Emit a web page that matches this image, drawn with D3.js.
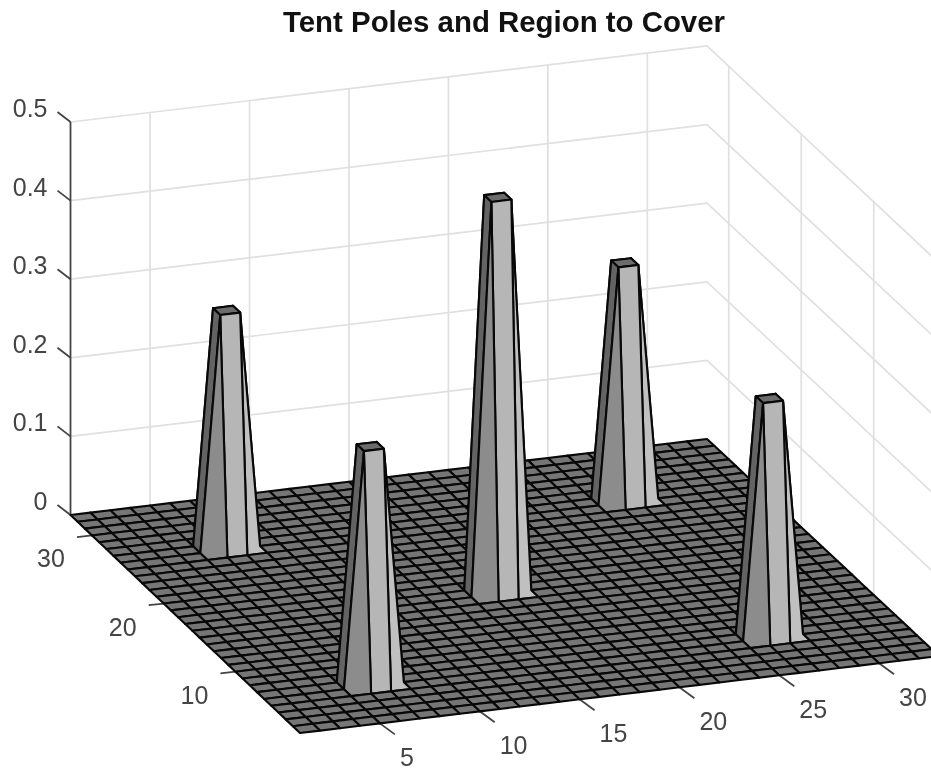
<!DOCTYPE html>
<html><head><meta charset="utf-8">
<script src="https://cdn.jsdelivr.net/npm/d3@7/dist/d3.min.js"></script>
<style>html,body{margin:0;padding:0;background:#fff;overflow:hidden}
svg{display:block;filter:blur(0.7px)}text{font-family:"Liberation Sans",Arial,sans-serif}</style></head>
<body><svg id="c" width="931" height="770"></svg>
<script>
const titleText = "Tent Poles and Region to Cover";
const gridSize = 33;
const poleX = [6, 6, 16, 26, 26];
const poleY = [6, 26, 16, 26, 6];
const poleHeight = [0.3, 0.3, 0.5, 0.3, 0.3];
const xTicks = [5, 10, 15, 20, 25, 30];
const yTicks = [10, 20, 30];
const zTicks = [0, 0.1, 0.2, 0.3, 0.4, 0.5];
const zTickLabels = ["0", "0.1", "0.2", "0.3", "0.4", "0.5"];

const svg = d3.select("#c");
const sx = d3.scaleLinear().domain([1, gridSize]).range([0, 1]);
const sy = d3.scaleLinear().domain([1, gridSize]).range([0, 1]);
const sz = d3.scaleLinear().domain([0, 0.5]).range([0, 393]);
const frontX = d3.scaleLinear().domain([0, 1]).range([300, 939]);
const frontY = d3.scaleLinear().domain([0, 1]).range([733, 656]);
const backX = d3.scaleLinear().domain([0, 1]).range([70.5, 707]);
const backY = d3.scaleLinear().domain([0, 1]).range([515, 439]);
function project(x, y, z) {
  const u = sx(x), v = sy(y);
  const fx = frontX(u), fy = frontY(u), bx = backX(u), by = backY(u);
  return [fx + (bx - fx) * v, fy + (by - fy) * v - sz(z)];
}
const line = d3.line();
const gridColor = "#e0e0e0", axisColor = "#444444";

const walls = svg.append("g").attr("fill", "none").attr("stroke", gridColor).attr("stroke-width", 1.7);
zTicks.forEach(z => {
  walls.append("path").attr("d", line([project(1, gridSize, z), project(gridSize, gridSize, z), project(gridSize, 1, z)]));
});
xTicks.forEach(x => {
  walls.append("path").attr("d", line([project(x, gridSize, 0), project(x, gridSize, 0.5)]));
});
yTicks.forEach(y => {
  walls.append("path").attr("d", line([project(gridSize, y, 0), project(gridSize, y, 0.5)]));
});

const axes = svg.append("g").attr("fill", "none").attr("stroke", axisColor).attr("stroke-width", 1.8);
axes.append("path").attr("d", line([project(1, gridSize, 0), project(1, gridSize, 0.5)]));
zTicks.forEach(z => { const p = project(1, gridSize, z);
  axes.append("path").attr("d", line([p, [p[0] - 13, p[1] - 10]])); });
xTicks.forEach(x => { const p = project(x, 1, 0);
  axes.append("path").attr("d", line([p, [p[0] + 15, p[1] + 11]])); });
yTicks.forEach(y => { const p = project(1, y, 0);
  axes.append("path").attr("d", line([p, [p[0] - 15, p[1] + 1.6]])); });

const Z = d3.range(gridSize + 1).map(() => new Array(gridSize + 1).fill(0));
poleX.forEach((px, k) => {
  [[0,0],[1,0],[0,1],[1,1]].forEach(([a,b]) => { Z[px + a][poleY[k] + b] = poleHeight[k]; });
});
function faceColor(x, y) {
  for (let k = 0; k < poleX.length; k++) {
    const dx = x - poleX[k], dy = y - poleY[k];
    if (Math.abs(dx) <= 1 && Math.abs(dy) <= 1) {
      if (dx === 0 && dy === 0) return "#6c6c6c";
      if (dx === -1 && dy === 0) return "#636363";
      if (dx === -1 && dy === 1) return "#5a5a5a";
      if (dx === -1 && dy === -1) return "#8c8c8c";
      if (dx === 0 && dy === -1) return "#b6b6b6";
      if (dx === 1 && dy === -1) return "#c0c0c0";
      return "#6c6c6c";
    }
  }
  return "#767676";
}
const cells = [];
for (let x = 1; x < gridSize; x++) for (let y = 1; y < gridSize; y++) cells.push([x, y]);
cells.sort((a, b) => (7.1 * b[0] + 20 * b[1]) - (7.1 * a[0] + 20 * a[1]));
svg.append("g").selectAll("path").data(cells).join("path")
  .attr("d", ([x, y]) => line([
    project(x, y, Z[x][y]), project(x + 1, y, Z[x + 1][y]),
    project(x + 1, y + 1, Z[x + 1][y + 1]), project(x, y + 1, Z[x][y + 1])]) + "Z")
  .attr("fill", ([x, y]) => faceColor(x, y))
  .attr("stroke", "#080808").attr("stroke-width", 2.1).attr("stroke-linejoin", "round");

const labels = svg.append("g").attr("fill", "#444").attr("font-size", 25);
zTicks.forEach((z, i) => { const p = project(1, gridSize, z);
  labels.append("text").attr("x", p[0] - 23).attr("y", p[1] - 5).attr("text-anchor", "end").text(zTickLabels[i]); });
xTicks.forEach(x => { const p = project(x, 1, 0);
  labels.append("text").attr("x", p[0] + 20).attr("y", p[1] + 42.5).attr("text-anchor", "start").text(x); });
yTicks.forEach(y => { const p = project(1, y, 0);
  labels.append("text").attr("x", p[0] - 41).attr("y", p[1] + 32).attr("text-anchor", "middle").text(y); });
svg.append("text").attr("x", 504).attr("y", 32).attr("text-anchor", "middle")
  .attr("font-size", 29.4).attr("font-weight", "bold").attr("fill", "#111").text(titleText);
</script></body></html>
